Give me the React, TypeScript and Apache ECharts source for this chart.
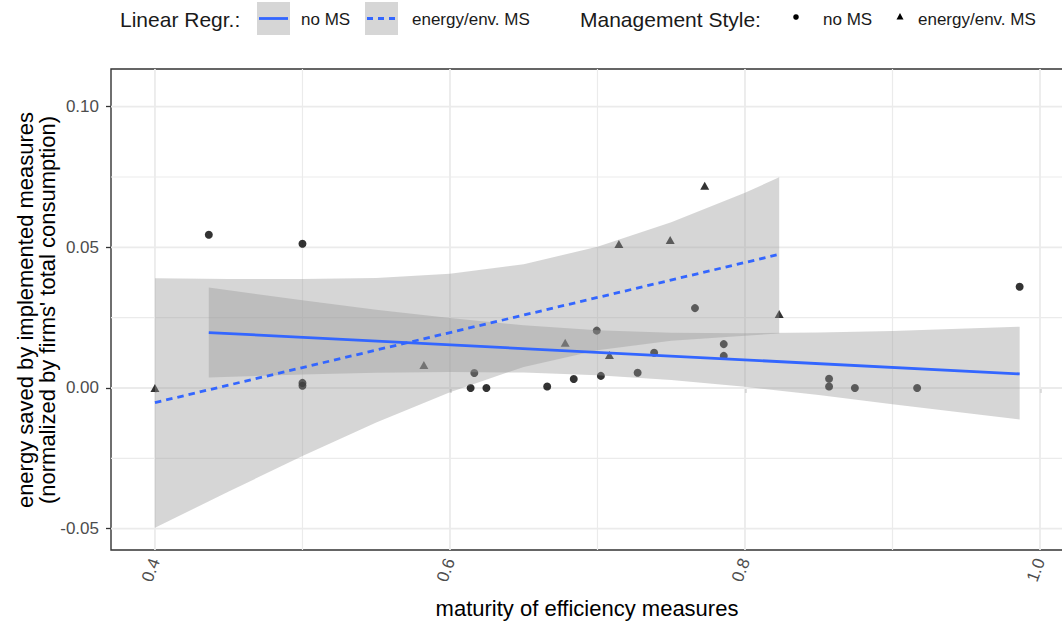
import React, { useEffect, useRef } from "react";
import * as echarts from "echarts";

// ---- data ----
const noMsX = [0.4365, 0.5, 0.5, 0.5, 0.614, 0.6165, 0.6247, 0.6659, 0.6839, 0.6995, 0.7023, 0.7272, 0.7384, 0.7661, 0.7856, 0.7856, 0.857, 0.857, 0.8745, 0.9167, 0.9862];
const noMsY = [0.0545, 0.0513, 0.0018, 0.0008, 0.0, 0.0053, 0.0, 0.0005, 0.0032, 0.0204, 0.0043, 0.0054, 0.0125, 0.0284, 0.0156, 0.0114, 0.0033, 0.0005, 0.0, 0.0, 0.036];

const envX = [0.4, 0.5823, 0.6781, 0.7081, 0.7145, 0.7493, 0.7727, 0.8232];
const envY = [0.0, 0.0082, 0.0161, 0.0117, 0.0512, 0.0526, 0.0719, 0.0263];

const fitNoMsX = [0.4365, 0.9862];
const fitNoMsY = [0.0197, 0.005];
const fitEnvX = [0.4, 0.8232];
const fitEnvY = [-0.0052, 0.0475];

const bandNoMsX = [0.4365, 0.5, 0.55, 0.6, 0.65, 0.7, 0.75, 0.8, 0.85, 0.9, 0.9862];
const bandNoMsUpper = [0.0357, 0.0312, 0.0278, 0.0249, 0.0223, 0.0205, 0.0196, 0.0195, 0.0197, 0.0203, 0.0218];
const bandNoMsLower = [0.0037, 0.0048, 0.0054, 0.0057, 0.0055, 0.0045, 0.0028, 0.0004, -0.0025, -0.0058, -0.0112];

const bandEnvX = [0.4, 0.45, 0.5, 0.55, 0.6, 0.65, 0.7, 0.75, 0.8, 0.8232];
const bandEnvUpper = [0.039, 0.0387, 0.0387, 0.0391, 0.0406, 0.044, 0.0502, 0.0589, 0.0694, 0.0749];
const bandEnvLower = [-0.0497, -0.0368, -0.0242, -0.0123, -0.0015, 0.0075, 0.0134, 0.0168, 0.0186, 0.0194];

const xTicks = [0.4, 0.6, 0.8, 1.0];
const xTickLabels = ["0.4", "0.6", "0.8", "1.0"];
const xMinor = [0.5, 0.7, 0.9];
const yTicks = [-0.05, 0, 0.05, 0.1];
const yTickLabels = ["-0.05", "0.00", "0.05", "0.10"];
const yMinor = [-0.025, 0.025, 0.075];

const X_MIN = 0.3702;
const X_MAX = 1.0183;
const Y_MIN = -0.0576;
const Y_MAX = 0.1134;

const FONT = "'Liberation Sans', Arial, sans-serif";
const BLUE = "#3366FF";
const RIBBON = "rgba(153,153,153,0.4)";
const GRID = "#EBEBEB";

function labelFor(ticks: number[], labels: string[]) {
  return (v: number) => {
    const i = ticks.findIndex((t) => Math.abs(t - v) < 1e-9);
    return i >= 0 ? labels[i] : "";
  };
}

function vGrid(values: number[], width: number) {
  return {
    type: "custom",
    z: 1,
    silent: true,
    data: values.map((v) => [v, 0]),
    renderItem: (_p: any, api: any) => {
      const a = api.coord([api.value(0), Y_MIN]);
      const b = api.coord([api.value(0), Y_MAX]);
      return {
        type: "line",
        shape: { x1: a[0], y1: a[1], x2: b[0], y2: b[1] },
        style: { stroke: GRID, lineWidth: width },
      };
    },
  };
}

function hGrid(values: number[], width: number) {
  return {
    type: "custom",
    z: 1,
    silent: true,
    data: values.map((v) => [0.5, v]),
    renderItem: (_p: any, api: any) => {
      const a = api.coord([X_MIN, api.value(1)]);
      const b = api.coord([X_MAX, api.value(1)]);
      return {
        type: "line",
        shape: { x1: a[0], y1: a[1], x2: b[0], y2: b[1] },
        style: { stroke: GRID, lineWidth: width },
      };
    },
  };
}

function band(xs: number[], up: number[], lo: number[]) {
  return {
    type: "custom",
    z: 3,
    silent: true,
    data: [[0.5, 0]],
    renderItem: (_p: any, api: any) => {
      const pts: number[][] = [];
      xs.forEach((x, i) => pts.push(api.coord([x, up[i]])));
      for (let i = xs.length - 1; i >= 0; i--) pts.push(api.coord([xs[i], lo[i]]));
      return {
        type: "polygon",
        shape: { points: pts },
        style: { fill: RIBBON },
      };
    },
  };
}

export default function App() {
  const ref = useRef<HTMLDivElement>(null);

  useEffect(() => {
    if (!ref.current) return;
    const chart = echarts.init(ref.current, undefined, { renderer: "svg" });

    const legendText = (x: number, text: string, size: number) => ({
      type: "text",
      x,
      y: 19,
      style: {
        text,
        fontSize: size,
        fontFamily: FONT,
        fill: "#1A1A1A",
        textAlign: "left",
        textVerticalAlign: "middle",
        verticalAlign: "middle",
      },
    });

    const option: any = {
      animation: false,
      backgroundColor: "#FFFFFF",
      grid: {
        left: 111,
        top: 69,
        width: 956,
        height: 481,
        show: true,
        outerBoundsMode: "none",
        containLabel: false,
        borderColor: "#333333",
        borderWidth: 1.4,
        backgroundColor: "#FFFFFF",
      },
      xAxis: {
        type: "value",
        min: X_MIN,
        max: X_MAX,
        axisLine: { show: false },
        splitLine: { show: false },
        axisTick: {
          show: true,
          customValues: xTicks,
          length: 5,
          lineStyle: { color: "#333333", width: 1.3 },
        },
        axisLabel: {
          customValues: xTicks,
          rotate: 70,
          margin: 9,
          color: "#4D4D4D",
          fontSize: 17,
          fontFamily: FONT,
          formatter: labelFor(xTicks, xTickLabels),
        },
      },
      yAxis: {
        type: "value",
        min: Y_MIN,
        max: Y_MAX,
        axisLine: { show: false },
        splitLine: { show: false },
        axisTick: {
          show: true,
          customValues: yTicks,
          length: 5,
          lineStyle: { color: "#333333", width: 1.3 },
        },
        axisLabel: {
          customValues: yTicks,
          margin: 12,
          color: "#4D4D4D",
          fontSize: 17,
          fontFamily: FONT,
          formatter: labelFor(yTicks, yTickLabels),
        },
      },
      series: [
        vGrid(xMinor, 1.2),
        hGrid(yMinor, 1.2),
        vGrid(xTicks, 1.8),
        hGrid(yTicks, 1.8),
        {
          type: "scatter",
          z: 2,
          silent: true,
          symbol: "circle",
          symbolSize: 8,
          itemStyle: { color: "#000000" },
          data: noMsX.map((x, i) => [x, noMsY[i]]),
        },
        {
          type: "scatter",
          z: 2,
          silent: true,
          symbol: "triangle",
          symbolSize: [9, 8],
          itemStyle: { color: "#000000" },
          data: envX.map((x, i) => [x, envY[i]]),
        },
        band(bandNoMsX, bandNoMsUpper, bandNoMsLower),
        band(bandEnvX, bandEnvUpper, bandEnvLower),
        {
          type: "line",
          z: 4,
          silent: true,
          showSymbol: false,
          symbol: "none",
          lineStyle: { color: BLUE, width: 2.8, cap: "butt" },
          data: fitNoMsX.map((x, i) => [x, fitNoMsY[i]]),
        },
        {
          type: "line",
          z: 4,
          silent: true,
          showSymbol: false,
          symbol: "none",
          lineStyle: { color: BLUE, width: 2.8, type: [6.5, 5], cap: "butt" },
          data: fitEnvX.map((x, i) => [x, fitEnvY[i]]),
        },
      ],
      graphic: [
        // legend: linear regression
        legendText(120, "Linear Regr.:", 21),
        { type: "rect", shape: { x: 257, y: 2, width: 33, height: 33 }, style: { fill: "#D6D6D6" } },
        { type: "line", shape: { x1: 259, y1: 18.5, x2: 288, y2: 18.5 }, style: { stroke: BLUE, lineWidth: 2.8 } },
        legendText(301, "no MS", 17),
        { type: "rect", shape: { x: 365, y: 2, width: 33, height: 33 }, style: { fill: "#D6D6D6" } },
        {
          type: "line",
          shape: { x1: 367, y1: 18.5, x2: 396, y2: 18.5 },
          style: { stroke: BLUE, lineWidth: 2.8, lineDash: [6, 5] },
        },
        legendText(412, "energy/env. MS", 17),
        // legend: management style
        legendText(580, "Management Style:", 21),
        { type: "circle", shape: { cx: 796, cy: 17, r: 2.8 }, style: { fill: "#000000" } },
        legendText(823, "no MS", 17),
        { type: "polygon", shape: { points: [[896.5, 19.5], [903.5, 19.5], [900, 13]] }, style: { fill: "#000000" } },
        legendText(918, "energy/env. MS", 17),
        // axis titles
        {
          type: "text",
          x: 587,
          y: 608,
          style: {
            text: "maturity of efficiency measures",
            fontSize: 22,
            fontFamily: FONT,
            fill: "#000000",
            textAlign: "center",
            textVerticalAlign: "middle",
            verticalAlign: "middle",
          },
        },
        {
          type: "text",
          x: 36,
          y: 310,
          rotation: Math.PI / 2,
          style: {
            text: "energy saved by implemented measures\n(normalized by firms' total consumption)",
            fontSize: 22,
            lineHeight: 22,
            fontFamily: FONT,
            fill: "#000000",
            textAlign: "center",
            align: "center",
            textVerticalAlign: "middle",
            verticalAlign: "middle",
          },
        },
      ],
    };

    chart.setOption(option);
    return () => chart.dispose();
  }, []);

  return (
    <div
      ref={ref}
      style={{ position: "absolute", left: 0, top: 0, width: 1062, height: 623, background: "#fff" }}
    />
  );
}
